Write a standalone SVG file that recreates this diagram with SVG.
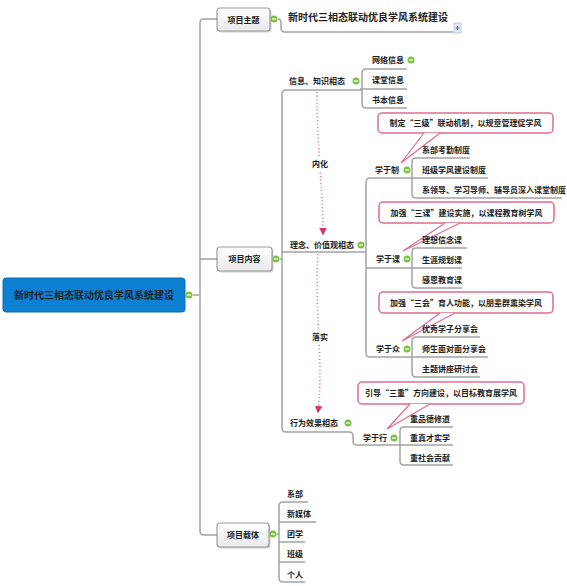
<svg xmlns="http://www.w3.org/2000/svg" width="567" height="586" viewBox="0 0 567 586">
<defs>
<linearGradient id="boxg" x1="0" y1="0" x2="0" y2="1">
<stop offset="0" stop-color="#ffffff"/>
<stop offset="1" stop-color="#e9e9e9"/>
</linearGradient>
<marker id="arr" viewBox="0 0 10 10" refX="8" refY="5" markerWidth="5" markerHeight="5" orient="auto">
<path d="M0,0 L10,5 L0,10 z" fill="#d8336b"/>
</marker>
<g id="exp">
<circle cx="0" cy="0" r="3.5" fill="#7cc242"/>
<path d="M-2,0 H2" stroke="#fff" stroke-width="1.2"/>
</g>
</defs>
<style>
.ln{fill:none;stroke:#a3a3a3;stroke-width:1.5}
.dot{fill:none;stroke:#e66a94;stroke-width:1.5;stroke-dasharray:1 2.5}
.box{fill:url(#boxg);stroke:#9c9c9c;stroke-width:1.2}
.sh{fill:#cfcfcf}
.t{font-family:"Noto Sans CJK SC","Noto Sans",sans-serif;font-size:8px;font-weight:bold;fill:#222}
.tc{text-anchor:middle}
.big{font-size:10px}
.co{fill:#fff;stroke:#df6c8f;stroke-width:1.5}
.ptr{fill:#fff;stroke:#df6c8f;stroke-width:1.2}
</style>
<rect width="567" height="586" fill="#fff"/>

<g id="connectors">
<path class="ln" d="M193,295 H200 M217,19 H204 Q200,19 200,23 V531 Q200,535 204,535 H217 M200,259 H217"/>
<path class="ln" d="M278,19 Q281,19 281,23 V28 Q281,32 285,32 H453"/>
<path class="ln" d="M280,259 H282 M362,90 H286 Q282,90 282,94 V428 Q282,432 286,432 H349 Q353,432 353,436 V441 Q353,445 357,445 H400 M282,252 H366"/>
<path class="ln" d="M360,89 H407 M407,69 H366 Q362,69 362,73 V104 Q362,108 366,108 H407"/>
<path class="ln" d="M412,178 H370 Q366,178 366,182 V353 Q366,357 370,357 H412 M366,268 H412"/>
<path class="ln" d="M470,158 H416 Q412,158 412,162 V194 Q412,198 416,198 H562 M412,178 H488"/>
<path class="ln" d="M467,248 H416 Q412,248 412,252 V284 Q412,288 416,288 H462 M412,268 H462"/>
<path class="ln" d="M480,337 H416 Q412,337 412,341 V373 Q412,377 416,377 H480 M412,357 H488"/>
<path class="ln" d="M453,427 H404 Q400,427 400,431 V461 Q400,465 404,465 H453 M400,445 H453"/>
<path class="ln" d="M277,534 H279 M308,502 H283 Q279,502 279,506 V578 Q279,582 283,582 H305 M279,522 H316 M279,542 H305 M279,562 H305"/>
<path class="dot" d="M317,92 C317,150 323,190 323,234" marker-end="url(#arr)"/>
<path class="dot" d="M318,254 C314,310 324,360 318,412" marker-end="url(#arr)"/>
<rect x="309" y="157" width="22" height="13" fill="#fff"/>
<text class="t tc" x="320" y="167">内化</text>
<rect x="309" y="330" width="22" height="13" fill="#fff"/>
<text class="t tc" x="320" y="340">落实</text>
</g>

<g id="root">
<rect x="3" y="278" width="182" height="34" rx="3" fill="#0e80d2" stroke="#0a6fb8"/>
<text class="t tc big" x="94" y="299">新时代三相态联动优良学风系统建设</text>
<use href="#exp" x="189" y="295"/>
</g>

<g id="n-theme">
<rect class="sh" x="218.5" y="9.5" width="53" height="23" rx="3"/>
<rect class="box" x="217" y="8" width="53" height="23" rx="3"/>
<text class="t tc" x="243.5" y="22.5">项目主题</text>
<use href="#exp" x="274" y="19"/>
</g>
<g id="n-theme-title">
<text class="t big" x="288" y="21">新时代三相态联动优良学风系统建设</text>
<rect x="454" y="23" width="7" height="10" fill="#e3ecf9" stroke="#a9bcd8" stroke-width="0.8"/>
<path d="M455.5,28 H459.5 M457.5,26 V30" stroke="#3a6fd0" stroke-width="1"/>
</g>

<g id="n-content">
<rect class="sh" x="218.5" y="248.5" width="55" height="24" rx="3"/>
<rect class="box" x="217" y="247" width="55" height="24" rx="3"/>
<text class="t tc" x="244.5" y="262">项目内容</text>
<use href="#exp" x="276" y="259"/>
</g>

<g id="n-info">
<text class="t" x="289" y="84">信息、知识相态</text>
<use href="#exp" x="356" y="81"/>
</g>
<g id="n-info-1"><text class="t" x="372" y="63">网络信息</text><use href="#exp" x="411" y="60"/></g>
<g id="n-info-2"><text class="t" x="372" y="83">课堂信息</text></g>
<g id="n-info-3"><text class="t" x="372" y="103">书本信息</text></g>

<g id="n-value">
<text class="t" x="290" y="248">理念、价值观相态</text>
<use href="#exp" x="361" y="245"/>
</g>

<g id="n-zhi">
<text class="t" x="375" y="173">学于制</text>
<use href="#exp" x="407" y="170"/>
</g>
<g id="c-zhi">
<rect class="co" x="378" y="113" width="175" height="20" rx="4"/>
<path class="ptr" d="M424,133 L401,163 L440,133"/>
<text class="t tc" x="465.5" y="126">制定“三级”联动机制，以规章管理促学风</text>
</g>
<g id="n-zhi-1"><text class="t" x="422" y="153">系部考勤制度</text></g>
<g id="n-zhi-2"><text class="t" x="422" y="173">班级学风建设制度</text></g>
<g id="n-zhi-3"><text class="t" x="422" y="193">系领导、学习导师、辅导员深入课堂制度</text></g>

<g id="n-ke">
<text class="t" x="376" y="262">学于课</text>
<use href="#exp" x="407" y="259"/>
</g>
<g id="c-ke">
<rect class="co" x="379" y="202" width="175" height="21" rx="4"/>
<path class="ptr" d="M445,223 L403,251 L460,223"/>
<text class="t tc" x="466.5" y="216">加强“三课”建设实施，以课程教育树学风</text>
</g>
<g id="n-ke-1"><text class="t" x="422" y="243">理想信念课</text></g>
<g id="n-ke-2"><text class="t" x="422" y="263">生涯规划课</text></g>
<g id="n-ke-3"><text class="t" x="422" y="283">感恩教育课</text></g>

<g id="n-zhong">
<text class="t" x="376" y="352">学于众</text>
<use href="#exp" x="407" y="349"/>
</g>
<g id="c-zhong">
<rect class="co" x="379" y="292" width="174" height="21" rx="4"/>
<path class="ptr" d="M440,313 L402,341 L455,313"/>
<text class="t tc" x="466" y="306">加强“三会”育人功能，以朋辈群熏染学风</text>
</g>
<g id="n-zhong-1"><text class="t" x="422" y="332">优秀学子分享会</text></g>
<g id="n-zhong-2"><text class="t" x="422" y="352">师生面对面分享会</text></g>
<g id="n-zhong-3"><text class="t" x="422" y="372">主题讲座研讨会</text></g>

<g id="n-behavior">
<text class="t" x="290" y="426">行为效果相态</text>
<use href="#exp" x="348" y="423"/>
</g>
<g id="n-xing">
<text class="t" x="363" y="441">学于行</text>
<use href="#exp" x="394" y="438"/>
</g>
<g id="c-xing">
<rect class="co" x="358" y="382" width="166" height="22" rx="4"/>
<path class="ptr" d="M410,404 L387,429 L430,404"/>
<text class="t tc" x="441" y="396">引导“三重”方向建设，以目标教育展学风</text>
</g>
<g id="n-xing-1"><text class="t" x="410" y="422">重品德修道</text></g>
<g id="n-xing-2"><text class="t" x="410" y="441">重真才实学</text></g>
<g id="n-xing-3"><text class="t" x="410" y="461">重社会贡献</text></g>

<g id="n-carrier">
<rect class="sh" x="218.5" y="524.5" width="52" height="24" rx="3"/>
<rect class="box" x="217" y="523" width="52" height="24" rx="3"/>
<text class="t tc" x="243" y="538">项目载体</text>
<use href="#exp" x="273" y="534"/>
</g>
<g id="n-carrier-1"><text class="t" x="287" y="497">系部</text></g>
<g id="n-carrier-2"><text class="t" x="287" y="517">新媒体</text></g>
<g id="n-carrier-3"><text class="t" x="287" y="537">团学</text></g>
<g id="n-carrier-4"><text class="t" x="287" y="557">班级</text></g>
<g id="n-carrier-5"><text class="t" x="287" y="578">个人</text></g>
</svg>
